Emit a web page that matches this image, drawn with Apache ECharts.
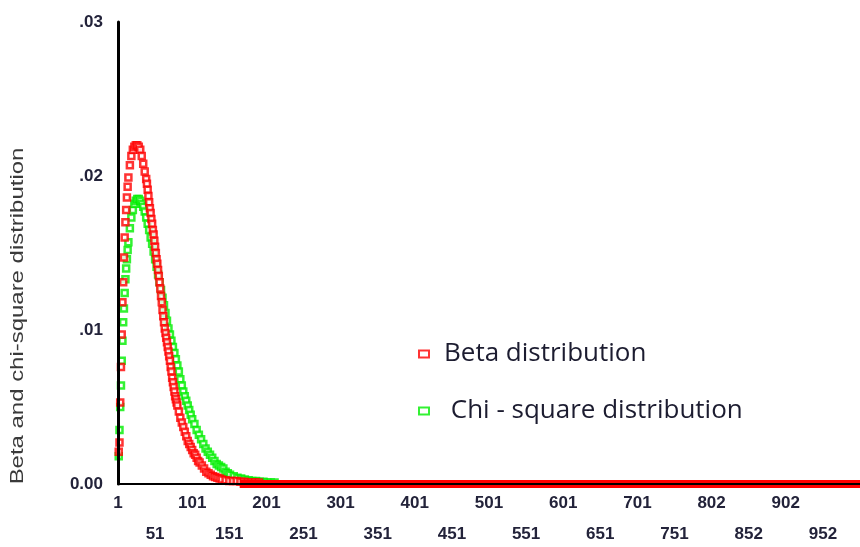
<!DOCTYPE html>
<html>
<head>
<meta charset="utf-8">
<script src="https://cdn.jsdelivr.net/npm/echarts@6/dist/echarts.min.js"></script>
<style>
  html, body { margin: 0; padding: 0; background: #fff; }
  #chart { width: 860px; height: 547px; }
</style>
</head>
<body>
<div id="chart"></div>
<script>
// tick labels of the category-like x axis (every 50th case)
var xTickLabels = ['1', '51', '101', '151', '201', '251', '301', '351', '401', '451',
  '501', '551', '601', '651', '701', '751', '802', '852', '902', '952'];
var yTickLabels = ['0.00', '.01', '.02', '.03'];
var yName = 'Beta and chi-square distribution';

// Beta distribution
var betaX = [1, 2, 3, 4, 5, 6, 7, 8, 9, 10, 11, 12, 13, 14,
  16, 18, 20, 22, 24, 26, 28, 30, 32, 34, 36, 38, 39,
  40, 41, 42, 43, 44, 45, 46, 47, 48, 49, 50, 51, 52, 53, 54, 55, 56, 57, 58, 59,
  60, 61, 62, 63, 64, 65, 66, 67, 68, 69, 70, 71, 72, 73, 74, 75, 76, 77, 78, 79,
  80, 82, 84, 86, 88, 90, 92, 94, 96, 98, 100, 102, 104, 106, 108, 110,
  113, 116, 119, 122, 125, 128, 131, 134, 137, 140,
  145, 150, 155, 160, 165, 170, 175, 180, 185, 190];
var betaY = [0.0021, 0.0027, 0.0053, 0.0076, 0.0097, 0.0118, 0.0131, 0.0147, 0.0160, 0.0170, 0.0178, 0.0186, 0.0193, 0.0199,
  0.0207, 0.0213, 0.0217, 0.0219, 0.0220, 0.0220, 0.0219, 0.0217, 0.0213, 0.0208, 0.0203, 0.0198, 0.0195,
  0.0191, 0.0187, 0.0183, 0.0179, 0.0176, 0.0172, 0.0169, 0.0165, 0.0162, 0.0158, 0.0154, 0.0150, 0.0146, 0.0143, 0.0139, 0.0135, 0.0131, 0.0127, 0.0122, 0.0118,
  0.0113, 0.0109, 0.0105, 0.0101, 0.0098, 0.0095, 0.0092, 0.0089, 0.0086, 0.0083, 0.0080, 0.0076, 0.0073, 0.0069, 0.0066, 0.0063, 0.0060, 0.0057, 0.0055, 0.0053,
  0.0051, 0.0047, 0.0043, 0.0040, 0.0037, 0.0034, 0.0031, 0.0028, 0.0026, 0.0024, 0.0022, 0.0020, 0.0019, 0.0017, 0.0015, 0.0014,
  0.0012, 0.0010, 0.0008, 0.0007, 0.0006, 0.0005, 0.00045, 0.0004, 0.00035, 0.0003,
  0.00025, 0.0002, 0.0002, 0.0002, 0.00015, 0.00015, 0.0001, 0.0001, 0.0001, 0.0001];
// the long run of zero values after the bump
var betaTailX = [164, 1000];
var betaTailY = [0, 0];

// Chi-square distribution
var chiX = [1, 2, 3, 4, 5, 6, 7, 8, 9, 10, 11, 12, 13, 14,
  16, 18, 20, 22, 24, 26, 28, 30, 32, 34, 36, 38, 40,
  42, 44, 46, 48, 50, 52, 54, 56, 58, 60, 62, 64, 66, 68, 70,
  72, 74, 76, 78, 80, 82, 84, 86, 88, 90, 92, 94, 96, 98, 100,
  103, 106, 109, 112, 115, 118, 121, 124, 127, 130, 133, 136, 139, 142, 145, 148, 151,
  156, 161, 166, 171, 176, 181, 186, 191, 196, 201, 206, 211];
var chiY = [0.0018, 0.0035, 0.0050, 0.0064, 0.0080, 0.0093, 0.0105, 0.0114, 0.0124, 0.0133, 0.0140, 0.0146, 0.0152, 0.0157,
  0.0166, 0.0173, 0.0178, 0.0182, 0.0184, 0.0185, 0.0185, 0.0184, 0.0182, 0.0180, 0.0177, 0.0173, 0.0169,
  0.0165, 0.0160, 0.0156, 0.0151, 0.0146, 0.0141, 0.0136, 0.0131, 0.0126, 0.0121, 0.0116, 0.0111, 0.0106, 0.0101, 0.0097,
  0.0093, 0.0089, 0.0085, 0.0081, 0.0077, 0.0073, 0.0068, 0.0064, 0.0060, 0.0057, 0.0054, 0.0051, 0.0048, 0.0045, 0.0042,
  0.0039, 0.0035, 0.0032, 0.0029, 0.0026, 0.0023, 0.0021, 0.0019, 0.0017, 0.0015, 0.0013, 0.0012, 0.0011, 0.0010, 0.0008, 0.0007, 0.0006,
  0.0005, 0.0004, 0.00035, 0.0003, 0.00025, 0.0002, 0.0002, 0.00015, 0.00015, 0.0001, 0.0001, 0.0001];

function pairs(xs, ys) {
  return xs.map(function (x, i) { return [x, ys[i]]; });
}

var labelFont = {
  fontFamily: 'Liberation Sans',
  fontSize: 17,
  fontWeight: 'bold',
  color: '#23233a'
};

var option = {
  backgroundColor: '#fff',
  animation: false,
  grid: { left: 118, right: 0, top: 22, bottom: 63, outerBoundsMode: 'none' },
  graphic: [{
    type: 'text',
    x: 18,
    y: 316,
    rotation: Math.PI / 2,
    scaleX: 1.33,
    style: {
      text: yName,
      fontFamily: 'Liberation Sans',
      fontSize: 18,
      fill: '#3a3a3a',
      align: 'center',
      verticalAlign: 'middle'
    }
  }],
  legend: {
    orient: 'vertical',
    left: 413,
    top: 336,
    itemWidth: 10,
    itemHeight: 7,
    itemGap: 31,
    data: ['Beta distribution', 'Chi - square distribution'],
    formatter: function (name) {
      return name.indexOf('Chi') === 0 ? ' ' + name : name;
    },
    textStyle: {
      fontFamily: 'Open Sans',
      fontSize: 26,
      color: '#1c1c30',
      padding: [0, 0, 0, 10]
    }
  },
  xAxis: {
    type: 'value',
    min: 0,
    max: 1000,
    interval: 50,
    z: 5,
    axisLine: { lineStyle: { color: '#000', width: 2 } },
    axisTick: { show: false },
    splitLine: { show: false },
    axisLabel: Object.assign({
      margin: 4,
      lineHeight: 31,
      formatter: function (v) {
        var i = Math.round(v / 50);
        var t = xTickLabels[i];
        if (t === undefined) return '';
        return i % 2 === 1 ? '\n' + t : t;
      }
    }, labelFont)
  },
  yAxis: {
    type: 'value',
    min: 0,
    max: 0.03,
    interval: 0.01,
    z: 5,
    axisLine: { show: true, lineStyle: { color: '#000', width: 3 } },
    axisTick: { show: false },
    splitLine: { show: false },
    axisLabel: Object.assign({
      margin: 15,
      formatter: function (v) {
        return yTickLabels[Math.round(v / 0.01)];
      }
    }, labelFont)
  },
  series: [
    {
      name: 'Chi - square distribution',
      type: 'scatter',
      symbol: 'rect',
      symbolSize: 6,
      itemStyle: { color: '#fff', borderColor: '#00ee00', borderWidth: 2.5 },
      data: pairs(chiX, chiY)
    },
    {
      name: 'Beta zero run',
      type: 'line',
      symbol: 'none',
      lineStyle: { color: '#ff0000', width: 8 },
      data: pairs(betaTailX, betaTailY)
    },
    {
      name: 'Beta distribution',
      type: 'scatter',
      symbol: 'rect',
      symbolSize: 6,
      itemStyle: { color: '#fff', borderColor: '#ff0000', borderWidth: 2.5 },
      data: pairs(betaX, betaY)
    }
  ]
};

var chart = echarts.init(document.getElementById('chart'));
chart.setOption(option);
</script>
</body>
</html>
